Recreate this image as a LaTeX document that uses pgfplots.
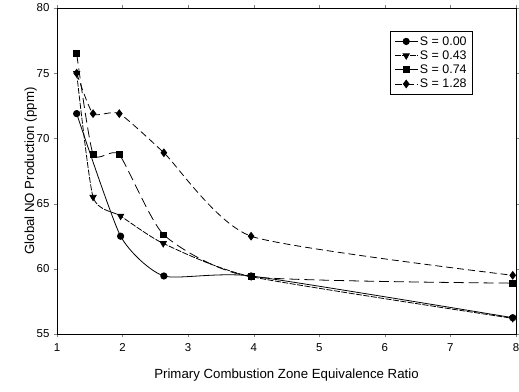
\documentclass[border=0pt]{standalone}
\usepackage{pgfplots}
\pgfplotsset{compat=1.18}
\usepackage{fontspec}
\setmainfont{Liberation Sans}
\begin{document}
\begin{tikzpicture}
\begin{axis}[
  scale only axis,
  width=459bp, height=326bp,
  xmin=1, xmax=8, ymin=55, ymax=80,
  xtick={1,...,8}, ytick={55,60,...,80},
  tick align=outside,
  major tick length=3bp,
  /pgf/number format/assume math mode=true,
  tick label style={font=\fontsize{11.5}{13}\selectfont},
  xticklabel style={yshift=-3bp},
  yticklabel style={xshift=-1bp},
  xlabel={Primary Combustion Zone Equivalence Ratio},
  ylabel={Global NO Production (ppm)},
  label style={font=\fontsize{13.3}{15}\selectfont},
  xlabel style={yshift=-10bp},
  ylabel style={yshift=-7bp},
  axis line style={line width=0.8pt},
  legend style={at={(0.906,0.929)}, anchor=north east, font=\fontsize{12.5}{14}\selectfont, draw=black, row sep=0pt, inner xsep=4pt, inner ysep=3pt},
  legend cell align=left,
  every axis plot/.append style={black, line width=0.8pt, smooth, tension=0.35},
  legend image code/.code={
    \draw[#1,mark repeat=2,mark phase=2] plot coordinates {(0cm,0cm) (0.4cm,0cm) (0.8cm,0cm)};},
]
\addplot[mark=*, mark size=3.2pt, solid] coordinates {
(1.30,71.9) (1.97,62.5) (2.63,59.45) (3.96,59.45) (7.95,56.25)};
\addlegendentry{S = 0.00}
\addplot[mark=triangle*, mark options={rotate=180, solid}, mark size=3.6pt, dash pattern=on 6pt off 1.5pt] coordinates {
(1.30,75.0) (1.55,65.5) (1.97,64.05) (2.62,61.95) (3.96,59.4) (7.95,56.2)};
\addlegendentry{S = 0.43}
\addplot[mark=square*, mark options={solid}, mark size=3pt, dash pattern=on 10pt off 5pt] coordinates {
(1.30,76.5) (1.55,68.8) (1.95,68.75) (2.63,62.6) (3.96,59.4) (7.95,58.9)};
\addlegendentry{S = 0.74}
\addplot[mark=diamond*, mark options={solid}, mark size=3.8pt, dash pattern=on 7pt off 4pt] coordinates {
(1.30,75.0) (1.55,71.9) (1.95,71.9) (2.63,68.9) (3.96,62.5) (7.95,59.5)};
\addlegendentry{S = 1.28}
\end{axis}
\pgfresetboundingbox
\path ([shift={(-57bp,-58bp)}]current axis.south west) rectangle ([shift={(3bp,8bp)}]current axis.north east);
\end{tikzpicture}
\end{document}
